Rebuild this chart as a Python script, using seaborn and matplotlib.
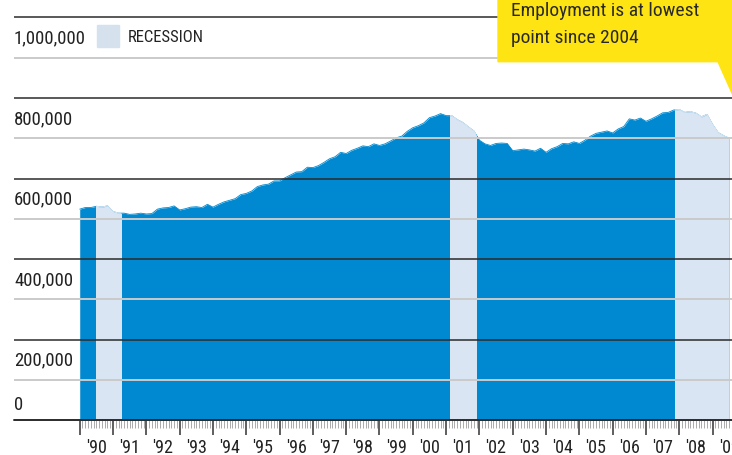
import numpy as np
import pandas as pd
import matplotlib
matplotlib.use('Agg')
import matplotlib.pyplot as plt
import seaborn as sns
from matplotlib.patches import Rectangle, Polygon

# employment, thousands, read every two months from Jan 1990
jobs = [524, 528, 528, 531, 529, 532, 518, 514, 514, 511, 512, 514,
        512, 513, 524, 527, 528, 532, 522, 525, 529, 530, 528, 536,
        529, 536, 542, 546, 550, 560, 563, 569, 580, 584, 586, 594,
        594, 602, 609, 616, 617, 628, 627, 632, 640, 649, 654, 665,
        662, 670, 675, 681, 679, 686, 682, 686, 693, 701, 705, 717,
        726, 731, 738, 751, 755, 761, 756, 756, 746, 739, 728, 718,
        695, 686, 682, 687, 688, 687, 669, 671, 673, 671, 668, 675,
        665, 674, 679, 687, 686, 691, 687, 695, 705, 712, 715, 718,
        713, 723, 729, 748, 745, 750, 742, 748, 755, 763, 764, 770,
        771, 764, 766, 762, 753, 759, 734, 714, 706, 700]
years = 1990 + np.arange(len(jobs)) / 6

rec_start = [1990.5, 2001.11, 2007.88]
rec_end = [1991.25, 2001.89, 2010.0]

year_labels = ["'90", "'91", "'92", "'93", "'94", "'95", "'96", "'97", "'98", "'99",
               "'00", "'01", "'02", "'03", "'04", "'05", "'06", "'07", "'08", "'09"]
y_ticks = [0, 200000, 400000, 600000, 800000, 1000000]
y_labels = ['0', '200,000', '400,000', '600,000', '800,000', '1,000,000']

df = pd.DataFrame({'year': years, 'jobs': np.array(jobs) * 1000})

blue = '#0089d0'
light = '#d9e5f2'
dark = '#2b2b2b'
grey = '#cacaca'

sns.set_style('white')
plt.rcParams['font.family'] = ['DejaVu Sans Condensed', 'Noto Sans Condensed',
                               'Roboto Condensed', 'Open Sans Condensed', 'DejaVu Sans']
plt.rcParams['font.stretch'] = 'condensed'

fig = plt.figure(figsize=(7.32, 4.56), dpi=100)
ax = fig.add_axes([14 / 732, (456 - 421.3) / 456, 1 - 14 / 732, 421.3 / 456])

sns.lineplot(data=df, x='year', y='jobs', color=blue, lw=0.6, ax=ax)
ax.fill_between(df['year'], df['jobs'], color=blue, lw=0, zorder=2)

for s, e in zip(rec_start, rec_end):
    clip = Rectangle((s, 0), e - s, 2e6, transform=ax.transData)
    poly = ax.fill_between(df['year'], df['jobs'], color=light, lw=0, zorder=2.5)
    poly.set_clip_path(clip)
    ln, = ax.plot(df['year'], df['jobs'], color=light, lw=0.8, zorder=2.5)
    ln.set_clip_path(clip)

# grid: dark every 200k, light in between
for v in range(100000, 1000001, 100000):
    if v % 200000 == 0:
        ax.axhline(v, color=dark, lw=1.1, zorder=3)
    else:
        ax.axhline(v, color=grey, lw=1.4, zorder=3)
ax.axhline(0, color=dark, lw=1.4, zorder=4, clip_on=False)

ax.set_xlim(1990 - 66 / 33.45, 1990 + 652 / 33.45)
ax.set_ylim(0, 421.3 / 403 * 1e6)
ax.set_xlabel('')
ax.set_ylabel('')
ax.set_yticks([])
for sp in ax.spines.values():
    sp.set_visible(False)

ax.set_xticks(np.arange(1990, 2010))
ax.set_xticklabels([])
ax.set_xticks(np.arange(1990, 2009.6, 1 / 12), minor=True)
ax.tick_params(axis='x', which='major', direction='out', length=11, width=1.1,
               color='#333333', bottom=True)
ax.tick_params(axis='x', which='minor', direction='out', length=6, width=0.5,
               color='#888888', bottom=True)

for i, lab in enumerate(year_labels):
    ax.text(1990 + i + 0.5, -0.041, lab, transform=ax.get_xaxis_transform(),
            ha='center', va='top', fontsize=13, color='#222222')

for v, lab in zip(y_ticks, y_labels):
    yy = 40000 if v == 0 else v - 50000
    ax.text(0, yy, lab, transform=ax.get_yaxis_transform(), ha='left', va='center',
            fontsize=13.5, color='#222222', zorder=5)

# legend
fig.patches.append(Rectangle((97 / 732, 1 - 48 / 456), 22 / 732, 22 / 456,
                             transform=fig.transFigure, color='#d5e1ec'))
fig.text(128 / 732, 1 - 37 / 456, 'RECESSION', ha='left', va='center',
         fontsize=12, color='#222222')

# callout
pts = [(498, 0), (740, 0), (740, 112), (718, 62.7), (498, 62.7)]
fig.patches.append(Polygon([(x / 732, 1 - y / 456) for x, y in pts], closed=True,
                           transform=fig.transFigure, color='#ffe414', zorder=6))
fig.text(511 / 732, 1 - 16 / 456, 'Employment is at lowest', ha='left', va='baseline',
         fontsize=14, color='#2a2a2a', zorder=7)
fig.text(511 / 732, 1 - 43 / 456, 'point since 2004', ha='left', va='baseline',
         fontsize=14, color='#2a2a2a', zorder=7)

fig.savefig('out.png', dpi=100)
